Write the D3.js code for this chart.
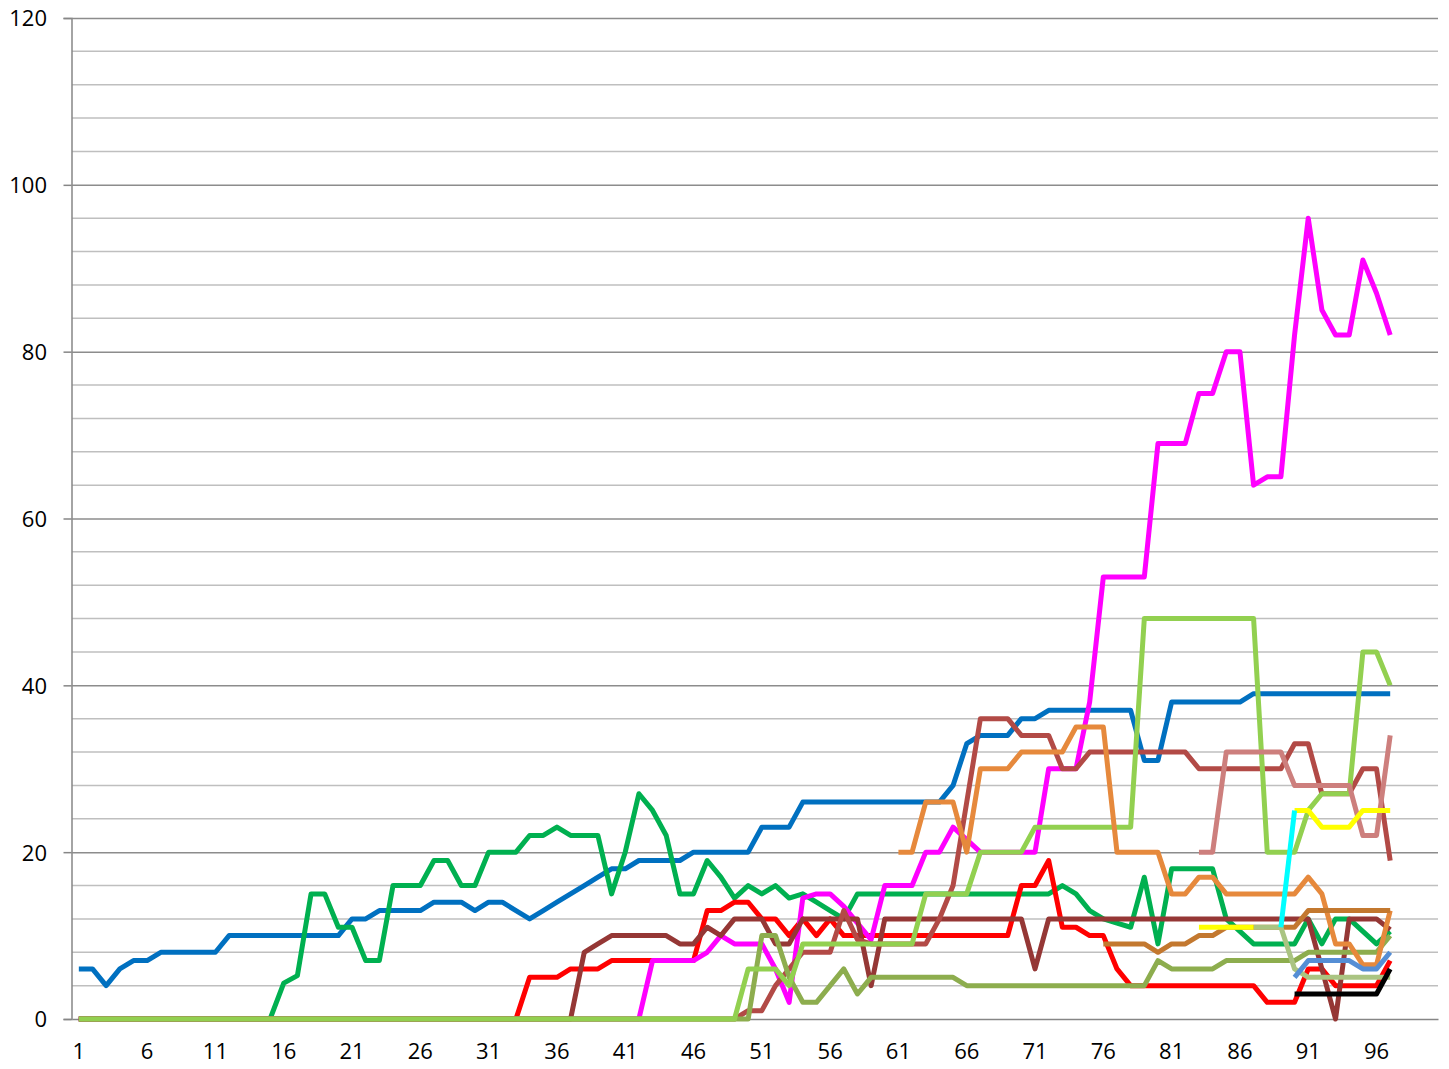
<!DOCTYPE html>
<html><head><meta charset="utf-8">
<script src="https://cdn.jsdelivr.net/npm/d3@7"></script>
<style>
body{margin:0;background:#fff}
svg{display:block}
text{font-family:"Open Sans",sans-serif;font-size:22px;fill:#000}
</style>
</head><body>
<svg id="chart" width="1449" height="1069"></svg>
<script>
// ---------- data ----------
const categories = Array.from({length:100}, (_, i) => i + 1);
const xTickLabels = [1,6,11,16,21,26,31,36,41,46,51,56,61,66,71,76,81,86,91,96];
const yTickLabels = [0,20,40,60,80,100,120];
const yMinorTicks = [4,8,12,16,24,28,32,36,44,48,52,56,64,68,72,76,84,88,92,96,104,108,112,116];

const blue = [6,6,4,6,7,7,8,8,8,8, 8,10,10,10,10,10,10,10,10,10, 12,12,13,13,13,13,14,14,14,13, 14,14,13,12,13,14,15,16,17,18, 18,19,19,19,19,20,20,20,20,20, 23,23,23,26,26,26,26,26,26,26, 26,26,26,26,28,33,34,34,34,36, 36,37,37,37,37,37,37,37,31,31, 38,38,38,38,38,38,39,39,39,39, 39,39,39,39,39,39,39];
const green = [0,0,0,0,0,0,0,0,0,0, 0,0,0,0,0,4.3,5.2,15,15,11, 11,7,7,16,16,16,19,19,16,16, 20,20,20,22,22,23,22,22,22,15, 20,27,25,22,15,15,19,17,14.5,16, 15,16,14.5,15,14,13,12,15,15,15, 15,15,15,15,15,15,15,15,15,15, 15,15,16,15,13,12,11.5,11,17,9, 18,18,18,18,12,10.5,9,9,9,9, 12,9,12,12,10.5,9,10.5];
const red = [0,0,0,0,0,0,0,0,0,0, 0,0,0,0,0,0,0,0,0,0, 0,0,0,0,0,0,0,0,0,0, 0,0,0,5,5,5,6,6,6,7, 7,7,7,7,7,7,13,13,14,14, 12,12,10,12,10,12,10,10,10,10, 10,10,10,10,10,10,10,10,10,16, 16,19,11,11,10,10,6,4,4,4, 4,4,4,4,4,4,4,2,2,2, 6,6,4,4,4,4,7];
const magenta = [0,0,0,0,0,0,0,0,0,0, 0,0,0,0,0,0,0,0,0,0, 0,0,0,0,0,0,0,0,0,0, 0,0,0,0,0,0,0,0,0,0, 0,0,7,7,7,7,8,10,9,9, 9,6,2,14.5,15,15,13.5,11.5,9.5,16, 16,16,20,20,23,21.5,20,20,20,20, 20,30,30,30,38,53,53,53,53,69, 69,69,75,75,80,80,64,65,65,82, 96,85,82,82,91,87,82];
const darkBrown = [0,0,0,0,0,0,0,0,0,0, 0,0,0,0,0,0,0,0,0,0, 0,0,0,0,0,0,0,0,0,0, 0,0,0,0,0,0,0,8,9,10, 10,10,10,10,9,9,11,10,12,12, 12,9,9,12,12,12,12,12,4,12, 12,12,12,12,12,12,12,12,12,12, 6,12,12,12,12,12,12,12,12,12, 12,12,12,12,12,12,12,12,12,12, 12,6,0,12,12,12,10.7];
const lightBrown = [0,0,0,0,0,0,0,0,0,0, 0,0,0,0,0,0,0,0,0,0, 0,0,0,0,0,0,0,0,0,0, 0,0,0,0,0,0,0,0,0,0, 0,0,0,0,0,0,0,0,0,1, 1,4,6,8,8,8,13,9.5,9,9, 9,9,9,12,16,26,36,36,36,34, 34,34,30,30,32,32,32,32,32,32, 32,32,30,30,30,30,30,30,30,33, 33,27,27,27,30,30,19];
const olive = [0,0,0,0,0,0,0,0,0,0, 0,0,0,0,0,0,0,0,0,0, 0,0,0,0,0,0,0,0,0,0, 0,0,0,0,0,0,0,0,0,0, 0,0,0,0,0,0,0,0,0,0, 10,10,5,2,2,4,6,3,5,5, 5,5,5,5,5,4,4,4,4,4, 4,4,4,4,4,4,4,4,4,7, 6,6,6,6,7,7,7,7,7,7, 8,8,8,8,8,8,10];
const lightGreen = [0,0,0,0,0,0,0,0,0,0, 0,0,0,0,0,0,0,0,0,0, 0,0,0,0,0,0,0,0,0,0, 0,0,0,0,0,0,0,0,0,0, 0,0,0,0,0,0,0,0,0,6, 6,6,4,9,9,9,9,9,9,9, 9,9,15,15,15,15,20,20,20,20, 23,23,23,23,23,23,23,23,48,48, 48,48,48,48,48,48,48,20,20,20, 25,27,27,27,44,44,40];
// late-starting series: first category, then values
const orangeStart = 61;
const orange = [20,20,26,26,26,20,30,30,30,32, 32,32,32,35,35,35,20,20,20,20, 15,15,17,17,15,15,15,15,15,15, 17,15,9,9,6.5,6.5,13];
const darkOrangeStart = 76;
const darkOrange = [9,9,9,9,8,9,9,10,10,11, 11,11,11,11,11,13,13,13,13,13, 13,13];
const rosyStart = 83;
const rosy = [20,20,32,32,32,32,32,28,28,28,28,28,22,22,34];
const yellowStart = 83;
const yellow = [11,11,11,11,11,null,null,25,25,23,23,23,25,25,25];
const sageStart = 87;
const sage = [11,11,11,6,5,5,5,5,5,5,5];
const cyanStart = 89;
const cyan = [11,25];
const cornflowerStart = 90;
const cornflower = [5,7,7,7,7,6,6,8];
const blackStart = 90;
const black = [3,3,3,3,3,3,3,6];

// ---------- series table (draw order) ----------
const seriesList = [
  {key:"blue", start:1, values:blue},
  {key:"green", start:1, values:green},
  {key:"red", start:1, values:red},
  {key:"magenta", start:1, values:magenta},
  {key:"darkBrown", start:1, values:darkBrown},
  {key:"lightBrown", start:1, values:lightBrown},
  {key:"olive", start:1, values:olive},
  {key:"lightGreen", start:1, values:lightGreen},
  {key:"orange", start:orangeStart, values:orange},
  {key:"darkOrange", start:darkOrangeStart, values:darkOrange},
  {key:"rosy", start:rosyStart, values:rosy},
  {key:"sage", start:sageStart, values:sage},
  {key:"yellow", start:yellowStart, values:yellow},
  {key:"cyan", start:cyanStart, values:cyan},
  {key:"cornflower", start:cornflowerStart, values:cornflower},
  {key:"black", start:blackStart, values:black}
];
const colors = {
  blue:"#0070C0", green:"#00B050", red:"#FF0000", magenta:"#FF00FF",
  darkBrown:"#953735", lightBrown:"#B24A46", olive:"#8DAD4E", lightGreen:"#92D050",
  orange:"#E6893C", darkOrange:"#C3782F", rosy:"#CD7F7D", sage:"#AAC482",
  yellow:"#FFFF00", cyan:"#00FFFF", cornflower:"#558ED5", black:"#000000"
};

// ---------- layout ----------
(function draw(){
const svg = d3.select("#chart");
const plotL = 72, plotR = 1438, plotT = 18, plotB = 1019;
const x = d3.scaleBand().domain(categories).range([plotL, plotR]).padding(0);
const xc = c => x(c) + x.bandwidth() / 2;
const y = d3.scaleLinear().domain([0, 120]).range([plotB, plotT]);

// minor gridlines
svg.append("g").selectAll("line").data(yMinorTicks).join("line")
  .attr("x1", plotL).attr("x2", plotR)
  .attr("y1", d => y(d)).attr("y2", d => y(d))
  .attr("stroke", "#BFBFBF").attr("stroke-width", 1.5);

// major gridlines + y axis
const yAxis = d3.axisLeft(y).tickValues(yTickLabels).tickSize(8).tickPadding(16).tickFormat(d3.format("d"));
const gy = svg.append("g").attr("transform", `translate(${plotL - 0.5},0)`).call(yAxis);
gy.select(".domain").attr("stroke", "#868686").attr("stroke-width", 1.5);
gy.selectAll(".tick line").attr("stroke", "#868686").attr("stroke-width", 1.5);
gy.selectAll(".tick text").attr("font-family", '"Open Sans",sans-serif').attr("font-size", 22)
  .attr("fill", "#000").attr("dy", "0.36em").attr("x", 47 - (plotL - 0.5));
gy.selectAll(".tick").filter(d => d > 0).append("line")
  .attr("x1", 0).attr("x2", plotR - plotL + 0.5)
  .attr("stroke", "#8C8C8C").attr("stroke-width", 1.5);

// x axis (category labels)
const xAxis = d3.axisBottom(x).tickValues(xTickLabels).tickSize(0).tickPadding(24);
const gx = svg.append("g").attr("transform", `translate(0,${plotB})`).call(xAxis);
gx.select(".domain").attr("stroke", "#868686").attr("stroke-width", 1.5);
gx.selectAll(".tick text").attr("font-family", '"Open Sans",sans-serif').attr("font-size", 22).attr("fill", "#000");

// lines
const line = d3.line()
  .defined(d => d.v !== null)
  .x(d => xc(d.c))
  .y(d => y(d.v));

svg.append("g").selectAll("path").data(seriesList).join("path")
  .attr("fill", "none")
  .attr("stroke", d => colors[d.key])
  .attr("stroke-width", 5)
  .attr("stroke-linejoin", "round")
  .attr("d", s => line(s.values.map((v, i) => ({c: s.start + i, v}))));
})();
</script>
</body></html>
